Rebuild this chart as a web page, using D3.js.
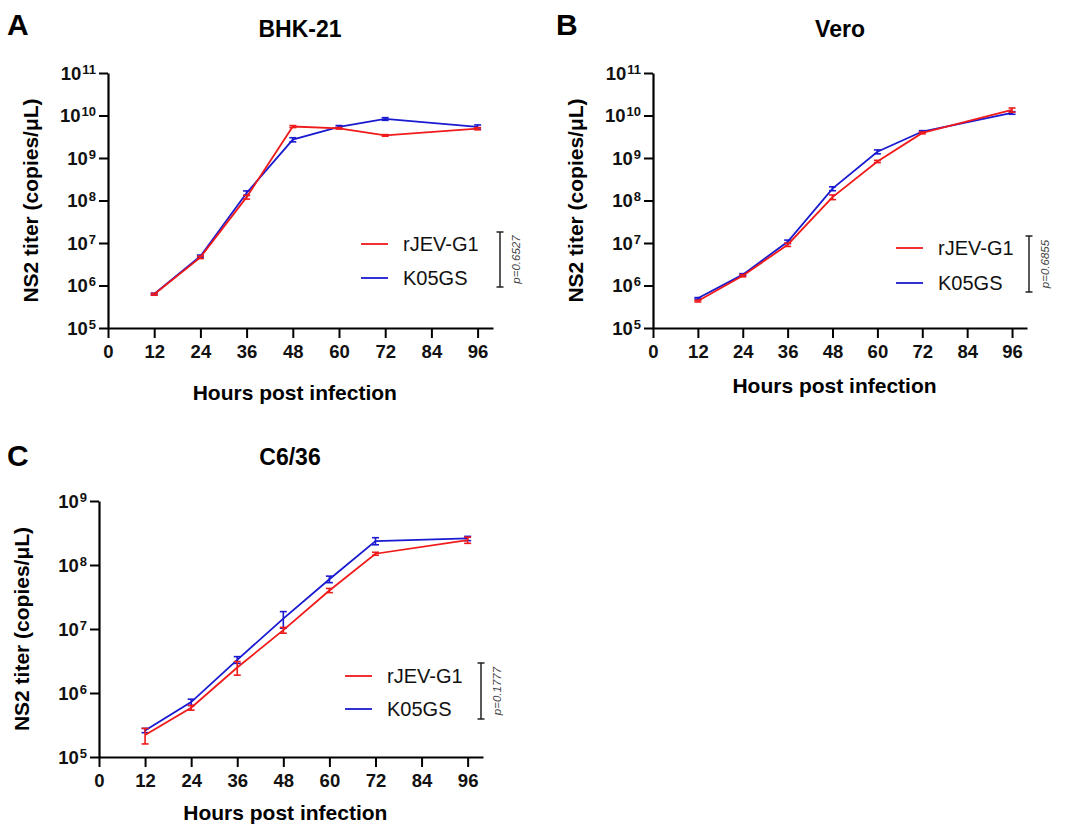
<!DOCTYPE html>
<html>
<head>
<meta charset="utf-8">
<script src="https://cdn.jsdelivr.net/npm/d3@7"></script>
<style>
  body { margin: 0; background: #fff; }
  svg { display: block; }
  text { font-family: "Liberation Sans", Arial, sans-serif; }
</style>
</head>
<body>
<svg id="chart" width="1069" height="825"></svg>
<script>
// ---- data ----
const hours = [12, 24, 36, 48, 60, 72, 96];
const xTicks = [0, 12, 24, 36, 48, 60, 72, 84, 96];
const seriesNames = ["rJEV-G1", "K05GS"];

// BHK-21
const bhkRJEV = [6.2e5, 4.6e6, 1.2e8, 5.5e9, 5.0e9, 3.4e9, 4.9e9];
const bhkRJEVsd = [3e4, 3e5, 1.2e7, 3e8, 2e8, 1.5e8, 3e8];
const bhkK05 = [6.3e5, 4.9e6, 1.5e8, 2.7e9, 5.4e9, 8.3e9, 5.4e9];
const bhkK05sd = [3e4, 3e5, 1.8e7, 3e8, 4e8, 6e8, 6e8];
const bhkP = "p=0.6527";

// Vero
const veroRJEV = [4.3e5, 1.7e6, 9.1e6, 1.2e8, 8.3e8, 3.9e9, 1.35e10];
const veroRJEVsd = [2e4, 1e5, 8e5, 1.5e7, 5e7, 2e8, 1.5e9];
const veroK05 = [5.0e5, 1.8e6, 1.07e7, 1.9e8, 1.4e9, 4.2e9, 1.15e10];
const veroK05sd = [2e4, 1e5, 1e6, 2e7, 1.5e8, 2e8, 8e8];
const veroP = "p=0.6855";

// C6/36
const c636RJEV = [2.2e5, 5.9e5, 2.5e6, 9.6e6, 4.0e7, 1.5e8, 2.45e8];
const c636RJEVsd = [6e4, 5e4, 6e5, 1e6, 3e6, 8e6, 2.7e7];
const c636K05 = [2.6e5, 7.2e5, 3.3e6, 1.45e7, 6.0e7, 2.37e8, 2.6e8];
const c636K05sd = [2e4, 8e4, 4e5, 4.2e6, 7e6, 3e7, 2e7];
const c636P = "p=0.1777";

// ---- drawing ----
const svg = d3.select("#chart");
svg.append("rect").attr("width", 1069).attr("height", 825).attr("fill", "#fff");

const RED = "#f01a1a";
const BLUE = "#1a1ad0";
const FONT = '"Liberation Sans", Arial, sans-serif';

function drawPanel(cfg) {
  const x = d3.scaleLinear().domain([0, 100]).range([cfg.x0, cfg.x1]);
  const y = d3.scaleLog().domain([1e5, cfg.yMax]).range([cfg.y0, cfg.y1]);
  const g = svg.append("g");

  // panel letter & title
  g.append("text").attr("x", cfg.letterX).attr("y", cfg.letterY)
    .attr("font-size", 30).attr("font-weight", "bold").text(cfg.letter);
  g.append("text").attr("x", cfg.titleX).attr("y", cfg.titleY)
    .attr("text-anchor", "middle").attr("font-size", 23).attr("font-weight", "bold").text(cfg.title);

  // x axis
  const xa = g.append("g").attr("transform", `translate(0,${cfg.y0})`)
    .call(d3.axisBottom(x).tickValues(xTicks).tickSize(10).tickSizeOuter(0).tickPadding(7).tickFormat(d3.format("d")));
  xa.select(".domain").attr("stroke", "#000").attr("stroke-width", 2.2);
  xa.selectAll(".tick line").attr("stroke", "#000").attr("stroke-width", 2);
  xa.selectAll(".tick text").attr("font-size", 18.5).attr("font-weight", "bold")
    .attr("font-family", FONT).attr("fill", "#111");

  // y axis
  const exps = d3.range(5, Math.round(Math.log10(cfg.yMax)) + 1);
  const ya = g.append("g").attr("transform", `translate(${cfg.x0},0)`)
    .call(d3.axisLeft(y).tickValues(exps.map(e => Math.pow(10, e))).tickSize(9).tickSizeOuter(0).tickPadding(3).tickFormat(""));
  ya.select(".domain").attr("stroke", "#000").attr("stroke-width", 2.2);
  ya.selectAll(".tick line").attr("stroke", "#000").attr("stroke-width", 2);
  ya.selectAll(".tick text").each(function (d) {
    const t = d3.select(this).attr("font-family", FONT).attr("font-weight", "bold")
      .attr("fill", "#111").attr("dy", "0.35em").attr("font-size", 18.5);
    t.text(null);
    t.append("tspan").text("10");
    t.append("tspan").attr("font-size", 13).attr("dx", 1).attr("dy", -6)
      .text(String(Math.round(Math.log10(d))));
  });

  // axis titles
  g.append("text").attr("x", (cfg.x0 + x(96)) / 2 + 2).attr("y", cfg.xTitleY)
    .attr("text-anchor", "middle").attr("font-size", 21).attr("font-weight", "bold")
    .text("Hours post infection");
  g.append("text")
    .attr("transform", `translate(${cfg.yTitleX},${(cfg.y0 + cfg.y1) / 2}) rotate(-90)`)
    .attr("text-anchor", "middle").attr("font-size", 21).attr("font-weight", "bold")
    .text("NS2 titer (copies/\u03bcL)");

  // series
  const series = [
    { vals: cfg.k05, sd: cfg.k05sd, color: BLUE },
    { vals: cfg.rjev, sd: cfg.rjevsd, color: RED }
  ];
  const line = d3.line().x((d, i) => x(hours[i])).y(d => y(d));
  series.forEach(s => {
    g.append("path").datum(s.vals).attr("d", line)
      .attr("fill", "none").attr("stroke", s.color).attr("stroke-width", 1.8);
    const eb = g.append("g").attr("stroke", s.color).attr("stroke-width", 1.6);
    s.vals.forEach((v, i) => {
      const cx = x(hours[i]);
      const yt = y(v + s.sd[i]);
      const yb = y(Math.max(v - s.sd[i], 1.1e5));
      eb.append("line").attr("x1", cx).attr("x2", cx).attr("y1", yt).attr("y2", yb);
      eb.append("line").attr("x1", cx - 3.5).attr("x2", cx + 3.5).attr("y1", yt).attr("y2", yt);
      eb.append("line").attr("x1", cx - 3.5).attr("x2", cx + 3.5).attr("y1", yb).attr("y2", yb);
    });
  });

  // legend
  const lg = g.append("g");
  [RED, BLUE].forEach((c, i) => {
    const ly = cfg.legY + i * cfg.legGap;
    lg.append("line").attr("x1", cfg.legX).attr("x2", cfg.legX + 27)
      .attr("y1", ly).attr("y2", ly).attr("stroke", c).attr("stroke-width", 1.8);
    lg.append("text").attr("x", cfg.legX + 42).attr("y", ly).attr("dy", "0.36em")
      .attr("font-size", 20).attr("fill", "#111").text(seriesNames[i]);
  });

  // p-value bracket
  const bx = cfg.brX;
  const bk = g.append("g").attr("stroke", "#222").attr("stroke-width", 1.5);
  bk.append("line").attr("x1", bx).attr("x2", bx).attr("y1", cfg.brY0).attr("y2", cfg.brY1);
  bk.append("line").attr("x1", bx - 3.5).attr("x2", bx + 3.5).attr("y1", cfg.brY0).attr("y2", cfg.brY0);
  bk.append("line").attr("x1", bx - 3.5).attr("x2", bx + 3.5).attr("y1", cfg.brY1).attr("y2", cfg.brY1);
  g.append("text")
    .attr("transform", `translate(${bx + 20},${(cfg.brY0 + cfg.brY1) / 2}) rotate(-90)`)
    .attr("text-anchor", "middle").attr("font-size", 11.5).attr("font-style", "italic")
    .attr("fill", "#444").text(cfg.p);
}

drawPanel({
  letter: "A", letterX: 7, letterY: 35, title: "BHK-21", titleX: 300, titleY: 37,
  x0: 108, x1: 493, y0: 328, y1: 73, yMax: 1e11, yTitleX: 38, xTitleY: 400,
  rjev: bhkRJEV, rjevsd: bhkRJEVsd, k05: bhkK05, k05sd: bhkK05sd,
  legX: 361, legY: 244, legGap: 34, brX: 500, brY0: 232, brY1: 287, p: bhkP
});
drawPanel({
  letter: "B", letterX: 556, letterY: 35, title: "Vero", titleX: 840, titleY: 37,
  x0: 653, x1: 1027, y0: 328, y1: 73, yMax: 1e11, yTitleX: 583, xTitleY: 393,
  rjev: veroRJEV, rjevsd: veroRJEVsd, k05: veroK05, k05sd: veroK05sd,
  legX: 896, legY: 248, legGap: 35, brX: 1029, brY0: 236, brY1: 292, p: veroP
});
drawPanel({
  letter: "C", letterX: 7, letterY: 466, title: "C6/36", titleX: 290, titleY: 465,
  x0: 99, x1: 483, y0: 757, y1: 501, yMax: 1e9, yTitleX: 29, xTitleY: 820,
  rjev: c636RJEV, rjevsd: c636RJEVsd, k05: c636K05, k05sd: c636K05sd,
  legX: 345, legY: 676, legGap: 33, brX: 481, brY0: 663, brY1: 719, p: c636P
});
</script>
</body>
</html>
